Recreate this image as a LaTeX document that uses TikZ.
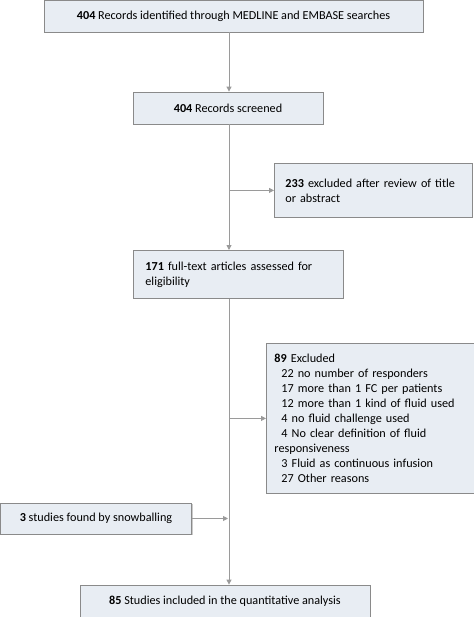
\documentclass[tikz,border=0pt]{standalone}
\usepackage{fontspec}
\setmainfont{Carlito}
\usetikzlibrary{arrows.meta,shadows}
\definecolor{boxfill}{HTML}{E8EDF3}
\definecolor{boxline}{HTML}{8A8A8A}
\definecolor{conn}{HTML}{9A9A9A}
\newcommand{\myboxfont}{\fontsize{12.2}{15}\selectfont\hyphenpenalty 10000 }
\begin{document}
\begin{tikzpicture}[x=1pt,y=-1pt,
  box/.style={draw=boxline, line width=0.8pt, fill=boxfill, inner sep=0pt,
    font=\myboxfont, text=black,
    drop shadow={shadow xshift=1pt, shadow yshift=-1pt, fill=black!35, opacity=0.6}},
  conline/.style={draw=conn, line width=0.9pt},
  arr/.style={conline, -{Triangle[length=5pt,width=5pt]}}]
\useasboundingbox (0,0) rectangle (473,617);
\coordinate (v) at (229,0);
\node[box, minimum width=379, minimum height=32] (n1) at (233.5,16)
  {\textbf{404} Records identified through MEDLINE and EMBASE searches};
\node[box, minimum width=190, minimum height=32] (n2) at (228,108)
  {\textbf{404} Records screened};
\node[box, minimum width=198, minimum height=54, text width=176, align=left,
  anchor=north west, inner xsep=8, inner ysep=7] (n3) at (274,163)
  {\textbf{233} excluded after review of title or abstract};
\node[box, minimum width=210, minimum height=48, text width=186, align=left,
  anchor=north west, inner xsep=12, inner ysep=6] (n4) at (133,250)
  {\textbf{171} full-text articles assessed for eligibility};
\node[box, minimum width=206, minimum height=150, text width=196, align=left,
  anchor=north west, inner xsep=8, inner ysep=8] (n5) at (266,343)
  {\textbf{89} Excluded\\
  \hspace*{7pt}22 no number of responders\\
  \hspace*{7pt}17 more than 1 FC per patients\\
  \hspace*{7pt}12 more than 1 kind of fluid used\\
  \hspace*{7pt}4 no fluid challenge used\\
  \hspace*{7pt}4 No clear definition of fluid\\
  responsiveness\\
  \hspace*{7pt}3 Fluid as continuous infusion\\
  \hspace*{7pt}27 Other reasons};
\node[box, minimum width=191, minimum height=31] (n6) at (96,518.5)
  {\textbf{3} studies found by snowballing};
\node[box, minimum width=290, minimum height=32] (n7) at (225,601)
  {\textbf{85} Studies included in the quantitative analysis};
\draw[arr] (n1.south -| v) -- (n2.north -| v);
\draw[arr] (n2.south -| v) -- (n4.north -| v);
\draw[arr] (v |- n3.west) -- (n3.west);
\draw[arr] (n4.south -| v) -- (n7.north -| v);
\draw[arr] (v |- n5.west) -- (n5.west);
\draw[arr] (n6.east) -- ([xshift=-1pt]v |- n6.east);
\end{tikzpicture}
\end{document}
